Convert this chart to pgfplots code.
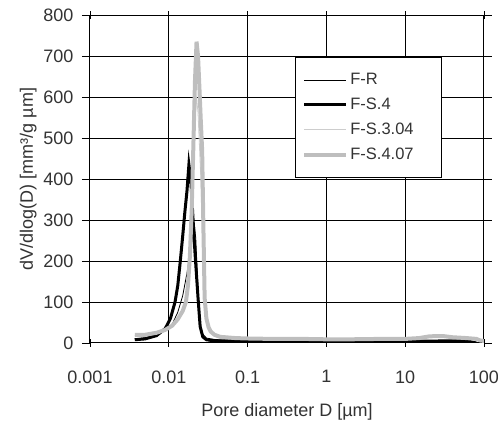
\documentclass[border=0pt]{standalone}
\usepackage{pgfplots}
\pgfplotsset{compat=1.18}
\usepackage{fontspec}
\setmainfont{Liberation Sans}
\definecolor{lgray}{RGB}{205,205,205}
\definecolor{mgray}{RGB}{190,190,190}
\newcommand{\ff}{\fontsize{18}{21}\selectfont}
\newcommand{\fl}{\fontsize{16.5}{19}\selectfont}
\begin{document}
\begin{tikzpicture}
\begin{axis}[
  at={(0pt,0pt)}, anchor=south west,
  scale only axis, width=394pt, height=328pt,
  xmode=log, xmin=0.001, xmax=100, ymin=0, ymax=800,
  xtick={0.001,0.01,0.1,1,10,100},
  xticklabels={0.001,0.01,0.1,1,10,100},
  xminorticks=false,
  ytick={0,100,...,800},
  /pgf/number format/assume math mode=true,
  axis line style={black, line width=1pt},
  xtick style={black, line width=0.6pt},
  ytick style={black, line width=0.6pt},
  xtick align=center,
  ytick align=outside,
  major tick length=8pt,
  every tick label/.append style={font=\ff, text=black!80},
  xticklabel style={yshift=-20pt},
  yticklabel style={xshift=-5pt},
  xlabel={Pore diameter D [µm]},
  ylabel={dV/dlog(D) [mm³/g µm]},
  label style={font=\ff, text=black!80},
  xlabel style={yshift=-13pt},
  ylabel style={yshift=0pt},
  legend style={at={(0.52,0.872)}, anchor=north west, draw=black, line width=1pt,
    font=\fl, text=black!80, inner xsep=7pt, inner ysep=14pt,
    row sep=8pt},
  legend cell align=left,
  legend image code/.code={\draw[#1] (0pt,0pt) -- (36pt,0pt); \path (36pt,0pt) -- (42pt,0pt);},
]
% grid lines
\addplot[black, line width=0.6pt, forget plot] coordinates {(0.01,0) (0.01,800)};
\addplot[black, line width=0.6pt, forget plot] coordinates {(0.1,0) (0.1,800)};
\addplot[black, line width=0.6pt, forget plot] coordinates {(1,0) (1,800)};
\addplot[black, line width=0.6pt, forget plot] coordinates {(10,0) (10,800)};
\addplot[black, line width=0.6pt, forget plot] coordinates {(0.001,100) (100,100)};
\addplot[black, line width=0.6pt, forget plot] coordinates {(0.001,200) (100,200)};
\addplot[black, line width=0.6pt, forget plot] coordinates {(0.001,300) (100,300)};
\addplot[black, line width=0.6pt, forget plot] coordinates {(0.001,400) (100,400)};
\addplot[black, line width=0.6pt, forget plot] coordinates {(0.001,500) (100,500)};
\addplot[black, line width=0.6pt, forget plot] coordinates {(0.001,600) (100,600)};
\addplot[black, line width=0.6pt, forget plot] coordinates {(0.001,700) (100,700)};
% series
\addplot[black, line width=0.8pt] coordinates {
(0.0037,10) (0.005,13) (0.007,20) (0.009,30) (0.011,45) (0.013,75) (0.015,115)
(0.017,170) (0.019,230) (0.0205,270) (0.0212,285) (0.022,255) (0.023,170)
(0.024,90) (0.025,45) (0.027,22) (0.03,12) (0.04,8) (0.07,6) (0.2,5) (1,5)
(5,5) (10,5) (20,6) (30,6) (50,5) (70,3) (80,1)
};
\addlegendentry{F-R}
\addplot[black, line width=3pt] coordinates {
(0.0037,8) (0.005,10) (0.007,18) (0.009,35) (0.0105,60) (0.012,100) (0.013,140)
(0.014,200) (0.015,260) (0.016,320) (0.017,370) (0.018,435) (0.019,400)
(0.0202,310) (0.0215,220) (0.0235,110) (0.025,40) (0.027,15) (0.03,8)
(0.035,6) (0.05,5) (0.1,5) (1,4) (10,4) (30,5) (50,5) (65,4) (72,2) (80,0)
};
\addlegendentry{F-S.4}
\addplot[lgray, line width=0.8pt] coordinates {
(0.0037,18) (0.005,20) (0.007,24) (0.009,30) (0.011,40) (0.013,55) (0.015,75)
(0.0165,100) (0.0175,135) (0.0185,200) (0.0195,300) (0.0205,430) (0.0215,540)
(0.0225,600) (0.0235,560) (0.0245,480) (0.0255,400) (0.0265,300) (0.0275,190)
(0.0285,110) (0.03,60) (0.032,35) (0.035,22) (0.04,15) (0.05,13) (0.1,11)
(1,10) (10,10) (20,14) (30,15) (50,12) (80,8) (100,5)
};
\addlegendentry{F-S.3.04}
\addplot[mgray, line width=4pt] coordinates {
(0.0037,20) (0.005,20) (0.007,25) (0.009,32) (0.011,42) (0.013,58) (0.015,78)
(0.0165,100) (0.0175,140) (0.0185,210) (0.0195,320) (0.0205,480) (0.0215,640)
(0.0225,735) (0.0235,700) (0.0245,620) (0.0255,540) (0.0265,470) (0.0275,280)
(0.0285,110) (0.03,60) (0.032,38) (0.034,28) (0.038,20) (0.045,15) (0.07,12)
(0.1,11) (0.2,10) (0.5,10) (1,9) (2,9) (5,10) (10,10) (15,12) (20,16) (25,17)
(30,17) (40,14) (60,12) (80,10) (90,6) (100,5)
};
\addlegendentry{F-S.4.07\hspace*{19pt}\rule[-8pt]{0pt}{8pt}}
\end{axis}
\pgfresetboundingbox
\path (-90pt,-82pt) rectangle (408pt,343pt);
\end{tikzpicture}
\end{document}
